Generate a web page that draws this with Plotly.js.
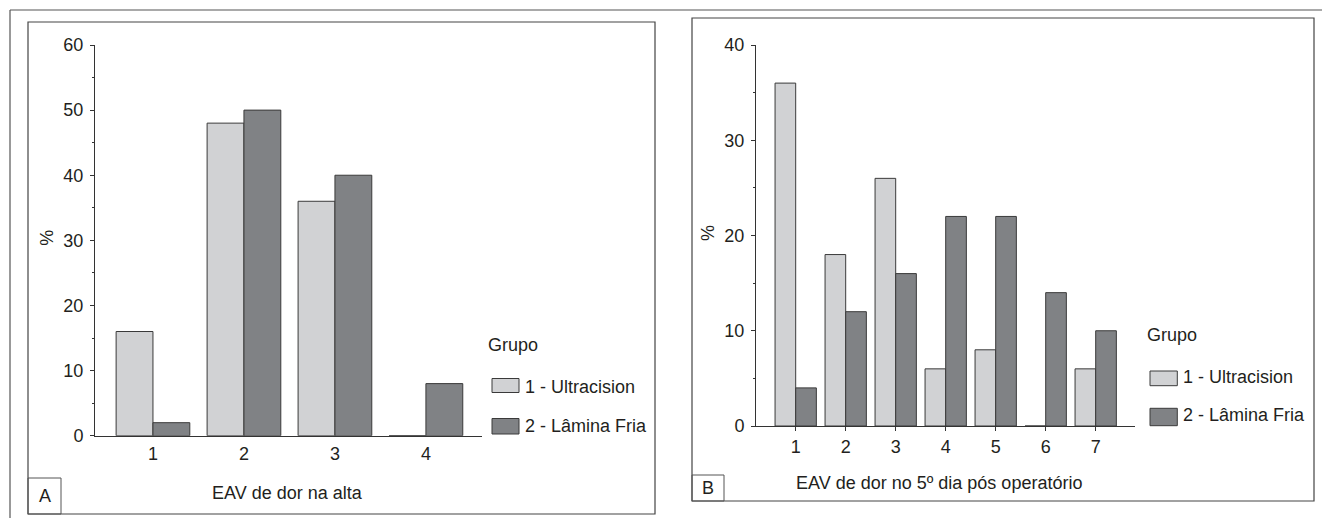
<!DOCTYPE html>
<html>
<head>
<meta charset="utf-8">
<script src="https://cdn.plot.ly/plotly-3.0.1.min.js"></script>
<style>html,body{margin:0;padding:0;background:#fff;}#chart{width:1322px;height:518px;}</style>
</head>
<body>
<div id="chart"></div>
<script>
// ---- Data ----
var groupNames = ["1 - Ultracision", "2 - Lâmina Fria"];
var legendTitle = "Grupo";

var catsA = [1, 2, 3, 4];
var tickTextA = ["1", "2", "3", "4"];
var ultraA = [16, 48, 36, 0];
var laminaA = [2, 50, 40, 8];
var xTitleA = "EAV de dor na alta";

var catsB = [1, 2, 3, 4, 5, 6, 7];
var tickTextB = ["1", "2", "3", "4", "5", "6", "7"];
var ultraB = [36, 18, 26, 6, 8, 0, 6];
var laminaB = [4, 12, 16, 22, 22, 14, 10];
var xTitleB = "EAV de dor no 5º dia pós operatório";

var yTitle = "%";
var panelLabels = ["A", "B"];

// ---- Layout helpers (pixel -> paper) ----
var W = 1322, H = 518;
function px(x) { return x / W; }
function py(y) { return 1 - y / H; }

var FONT = "Liberation Sans, Arial, Helvetica, sans-serif";
var TXT = "#231f20";
var LIGHT = "#d1d2d4";
var DARK = "#808285";
var EDGE = "#3a3a3a";

var traces = [
  {type: "bar", x: catsA, y: ultraA, name: groupNames[0], xaxis: "x", yaxis: "y",
   width: 0.405, offset: -0.405, marker: {color: LIGHT, line: {color: EDGE, width: 1}}, showlegend: false},
  {type: "bar", x: catsA, y: laminaA, name: groupNames[1], xaxis: "x", yaxis: "y",
   width: 0.405, offset: 0, marker: {color: DARK, line: {color: EDGE, width: 1}}, showlegend: false},
  {type: "bar", x: catsB, y: ultraB, name: groupNames[0], xaxis: "x2", yaxis: "y2",
   width: 0.413, offset: -0.413, marker: {color: LIGHT, line: {color: EDGE, width: 1}}, showlegend: false},
  {type: "bar", x: catsB, y: laminaB, name: groupNames[1], xaxis: "x2", yaxis: "y2",
   width: 0.413, offset: 0, marker: {color: DARK, line: {color: EDGE, width: 1}}, showlegend: false}
];

var tickFont = {family: FONT, size: 18, color: TXT};

function yAxis(domain, range, anchor) {
  return {domain: domain, range: range, anchor: anchor, dtick: 10, tick0: 0,
    ticks: "outside", ticklen: 4, tickwidth: 1, tickcolor: "#333",
    minor: {dtick: 5, ticks: "outside", ticklen: 2, tickwidth: 1, tickcolor: "#333", showgrid: false},
    showline: true, linecolor: "#333", linewidth: 1, showgrid: false, zeroline: false,
    tickfont: tickFont, ticklabelstandoff: 3, fixedrange: true};
}

var layout = {
  width: W, height: H,
  margin: {l: 0, r: 0, t: 0, b: 0},
  paper_bgcolor: "#fff", plot_bgcolor: "rgba(0,0,0,0)",
  barmode: "overlay",
  font: {family: FONT, color: TXT, size: 18},
  xaxis: {domain: [px(95), px(481.7)], range: [0.363, 4.613], anchor: "y",
    tickmode: "array", tickvals: catsA, ticktext: tickTextA, ticks: "",
    showline: true, linecolor: "#333", linewidth: 1, showgrid: false, zeroline: false,
    tickfont: tickFont, ticklabelstandoff: 2, fixedrange: true},
  yaxis: yAxis([py(435.7), py(45)], [0, 60], "x"),
  xaxis2: {domain: [px(756), px(1135)], range: [0.206, 7.786], anchor: "y2",
    tickmode: "array", tickvals: catsB, ticktext: tickTextB, ticks: "outside", ticklen: 4, tickcolor: "#333",
    showline: true, linecolor: "#333", linewidth: 1, showgrid: false, zeroline: false,
    tickfont: tickFont, ticklabelstandoff: 0, fixedrange: true},
  yaxis2: yAxis([py(426), py(45)], [0, 40], "x2"),
  shapes: [],
  annotations: []
};

// frame lines and panel boxes
function line(x0, y0, x1, y1, c, w) {
  layout.shapes.push({type: "line", xref: "paper", yref: "paper", x0: px(x0), y0: py(y0), x1: px(x1), y1: py(y1),
    line: {color: c, width: w}});
}
function rect(x0, y0, x1, y1, c, w, fill) {
  layout.shapes.push({type: "rect", xref: "paper", yref: "paper", x0: px(x0), y0: py(y0), x1: px(x1), y1: py(y1),
    line: {color: c, width: w}, fillcolor: fill || "rgba(0,0,0,0)", layer: "below"});
}
line(10, 10, 1322, 10, "#555", 1.2);
line(10, 10, 10, 518, "#555", 1.2);
rect(28, 22, 655, 514, "#444", 1.2);
rect(28, 478, 61, 514, "#555", 1);
rect(692, 18, 1314, 501, "#444", 1.2);
rect(692, 475, 724, 501, "#555", 1);

function ann(text, x, y, xanchor, extra) {
  var a = {text: text, xref: "paper", yref: "paper", x: px(x), y: py(y), xanchor: xanchor, yanchor: "middle",
    showarrow: false, font: {family: FONT, size: 18, color: TXT}};
  for (var k in extra || {}) a[k] = extra[k];
  layout.annotations.push(a);
}

// Panel A texts
ann(xTitleA, 287.5, 493, "center");
ann(yTitle, 46.7, 238, "center", {textangle: -90});
ann(panelLabels[0], 44.5, 496, "center");
ann(legendTitle, 486, 345, "left");
// Panel B texts
ann(xTitleB, 939, 483, "center");
ann(yTitle, 708, 233, "center", {textangle: -90});
ann(panelLabels[1], 708, 488, "center");
ann(legendTitle, 1145, 335, "left");

// Legends (swatches + labels)
var legendA = {sx0: 492, sx1: 519, tx: 523, rows: [[378.5, 392.5, 387], [418.5, 434, 425.5]]};
var legendB = {sx0: 1150, sx1: 1177.3, tx: 1181, rows: [[371, 385.7, 377], [408.3, 425.7, 415]]};
[legendA, legendB].forEach(function (L) {
  [LIGHT, DARK].forEach(function (col, i) {
    var r = L.rows[i];
    layout.shapes.push({type: "rect", xref: "paper", yref: "paper", x0: px(L.sx0), x1: px(L.sx1), y0: py(r[1]), y1: py(r[0]),
      line: {color: EDGE, width: 1}, fillcolor: col});
    ann(groupNames[i], L.tx, r[2], "left");
  });
});

Plotly.newPlot("chart", traces, layout, {displayModeBar: false, staticPlot: true});
</script>
</body>
</html>
